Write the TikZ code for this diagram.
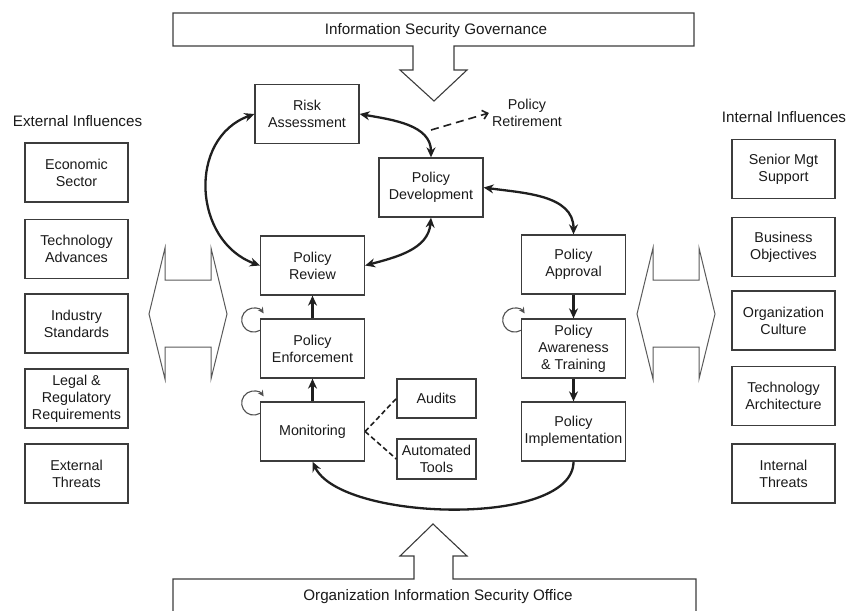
\documentclass[tikz,border=0pt]{standalone}
\usepackage{fontspec}
\setmainfont{Liberation Sans}
\usepackage{tikz}
\usetikzlibrary{arrows.meta}
\usetikzlibrary{calc}
\definecolor{boxgray}{HTML}{3C3C3C}
\definecolor{shapegray}{HTML}{5A5A5A}
\definecolor{loopgray}{HTML}{505050}
\definecolor{textgray}{HTML}{1A1A1A}

\begin{document}
\begin{tikzpicture}[x=1pt,y=1pt]
      \newcommand{\boxfont}{\fontsize{14.3}{17}\selectfont}
      \newcommand{\titlefont}{\fontsize{15.2}{18}\selectfont}
      \newcommand{\influencearrow}[1]{\draw[hollow,xshift=#1] (149,-314) -- (165,-248) -- (165,-280) -- (211,-280) -- (211,-248) -- (227,-314) -- (211,-379) -- (211,-347) -- (165,-347) -- (165,-379) -- cycle;}
      \tikzstyle{aedge} = [line width=2.3pt,->,>={Stealth[length=10pt,width=9pt]},draw=black!88]
      \tikzstyle{dedge} = [line width=2.3pt,<->,>={Stealth[length=10pt,width=9pt]},draw=black!88]
      \tikzstyle{dline} = [line width=1.6pt,dash pattern=on 5pt off 3pt,draw=black!88]
      \tikzstyle{selfloop} = [line width=1.1pt,draw=loopgray,-{Stealth[length=6pt,width=6pt]}]
      \tikzstyle{hollow} = [line width=1pt,draw=shapegray,fill=white]
      \tikzstyle{banner} = [line width=1.1pt,draw=boxgray,fill=white]
      \tikzstyle{box}=[
        draw=boxgray,
        fill=white,
        line width=1.3pt,
        anchor=center,
        align=center,
        inner sep=2pt,
        minimum width=104pt,
        minimum height=59pt,
        text=textgray,
        font=\boxfont,
      ]
      \tikzstyle{sidebox}=[box,minimum width=103pt]
      \tikzstyle{smallbox}=[box,minimum width=79pt,minimum height=39pt]
      \tikzstyle{label}=[align=center,text=textgray,font=\boxfont,inner sep=3pt]
      \tikzstyle{title}=[align=center,text=textgray,font=\titlefont,inner sep=0pt]

      \useasboundingbox (0,0) rectangle (848,-610);

      % governance and office banners
      \draw[banner] (173,-13) -- (694,-13) -- (694,-46) -- (454,-46) -- (454,-70) -- (467,-70) -- (434,-101) -- (400,-70) -- (413,-70) -- (413,-46) -- (173,-46) -- cycle;
      \node[title] (gov) at (436,-31) {Information Security Governance};
      \draw[banner] (173,-630) -- (173,-579) -- (414,-579) -- (414,-556) -- (400,-556) -- (433,-524) -- (467,-556) -- (453,-556) -- (453,-579) -- (696,-579) -- (696,-630);
      \node[title] (iso) at (438,-597) {Organization Information Security Office};

      % influence arrows
      \influencearrow{0}
      \influencearrow{488}

      % external influences
      \node[title] (ext) at (77.5,-121) {External Influences};
      \node[sidebox] (e1) at (76.5,-172.5) {Economic\\Sector};
      \node[sidebox] (e2) at (76.5,-249) {Technology\\Advances};
      \node[sidebox] (e3) at (76.5,-323.5) {Industry\\Standards};
      \node[sidebox] (e4) at (76.5,-398.5) {Legal \&\\Regulatory\\Requirements};
      \node[sidebox] (e5) at (76.5,-473.5) {External\\Threats};

      % internal influences
      \node[title] (int) at (784,-117) {Internal Influences};
      \node[sidebox] (i1) at (783.5,-169) {Senior Mgt\\Support};
      \node[sidebox] (i2) at (783.5,-247) {Business\\Objectives};
      \node[sidebox] (i3) at (783.5,-320.5) {Organization\\Culture};
      \node[sidebox] (i4) at (783.5,-396) {Technology\\Architecture};
      \node[sidebox] (i5) at (783.5,-473.5) {Internal\\Threats};

      % policy life cycle
      \node[box] (ra) at (307,-114) {Risk\\Assessment};
      \node[box] (pd) at (431,-187.5) {Policy\\Development};
      \node[box] (pr) at (312.5,-265.5) {Policy\\Review};
      \node[box] (pa) at (573.5,-264.5) {Policy\\Approval};
      \node[box] (pe) at (312.5,-348.5) {Policy\\Enforcement};
      \node[box] (pt) at (573.5,-348.5) {Policy\\Awareness\\\& Training};
      \node[box] (mon) at (312.5,-431.5) {Monitoring};
      \node[box] (pi) at (573.5,-431.5) {Policy\\Implementation};
      \node[smallbox] (aud) at (436.5,-398.5) {Audits};
      \node[smallbox,minimum height=40pt] (at) at (436.5,-459) {Automated\\Tools};
      \node[label] (ret) at (527,-113) {Policy\\Retirement};
      \coordinate (rt) at (431,-130);

      \draw[dedge] (ra.east) to[out=-10,in=90] (pd.north);
      \draw[dedge] (pd.east) to[out=-8,in=90] (pa.north);
      \draw[dedge] (pd.south) to[out=-95,in=15] (pr.east);
      \draw[dedge] (ra.west) to[out=200,in=160,looseness=1.2] (pr.west);
      \draw[aedge] (pa) -- (pt);
      \draw[aedge] (pt) -- (pi);
      \draw[aedge] (pi.south) to[out=-90,in=-65,looseness=0.65] (mon.south);
      \draw[aedge] (mon) -- (pe);
      \draw[aedge] (pe) -- (pr);
      \draw[dline] (mon.east) -- (aud.west);
      \draw[dline] (mon.east) -- (at.west);
      \draw[line width=1.6pt,dash pattern=on 8pt off 5pt,draw=black!88,-{Straight Barb[length=5pt,width=9pt]}] (rt) -- (ret.west);

      % self loops
      \draw[selfloop] ([yshift=-12pt]pe.north west) arc[start angle=-59,end angle=-326,radius=12pt];
      \draw[selfloop] ([yshift=-12pt]mon.north west) arc[start angle=-59,end angle=-326,radius=12pt];
      \draw[selfloop] ([yshift=-12pt]pt.north west) arc[start angle=-59,end angle=-326,radius=12pt];
    \end{tikzpicture}
\end{document}
